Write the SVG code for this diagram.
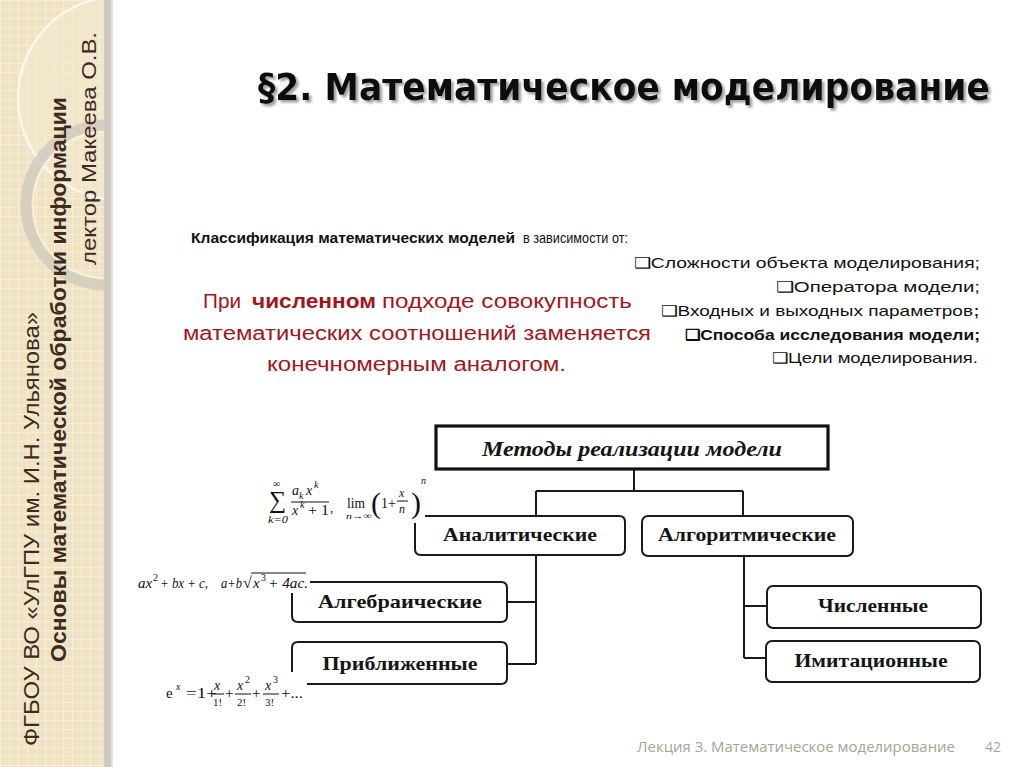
<svg xmlns="http://www.w3.org/2000/svg" width="1024" height="767" viewBox="0 0 1024 767">
<defs>
<pattern id="grid" width="9" height="9" patternUnits="userSpaceOnUse">
<rect width="9" height="9" fill="#efe3c3"/>
<path d="M0 0.5H9M0.5 0V9" stroke="#f6eedb" stroke-width="1"/>
</pattern>
<clipPath id="side"><rect x="0" y="0" width="110" height="767"/></clipPath>
<filter id="sh" filterUnits="userSpaceOnUse" x="240" y="50" width="770" height="70"><feDropShadow dx="2.5" dy="2.5" stdDeviation="1.3" flood-color="#888" flood-opacity="0.8"/></filter>
</defs>
<style>
.side{font-family:"Liberation Sans",Arial,sans-serif;fill:#3d2c1e}
.cal{font-family:"Liberation Sans",Arial,sans-serif;font-size:15px;fill:#111}
.red{font-family:"Liberation Sans",Arial,sans-serif;font-size:20px;fill:#a3161c}
.box{fill:#fff;stroke:#1a1a1a;stroke-width:2}
.open{fill:none;stroke:#1a1a1a;stroke-width:2}
.bt{font-family:"Liberation Serif","Times New Roman",serif;font-weight:bold;font-size:19px;fill:#151515;text-anchor:middle}
.conn{fill:none;stroke:#1a1a1a;stroke-width:2}
.f{font-family:"Liberation Serif","DejaVu Serif",serif;fill:#111}
.fi{font-family:"Liberation Serif","DejaVu Serif",serif;font-style:italic;fill:#111}
</style>
<rect width="1024" height="767" fill="#fff"/>
<!-- sidebar -->
<g id="sidebar">
<rect x="0" y="0" width="110" height="767" fill="url(#grid)"/>
<g clip-path="url(#side)">
<circle cx="120" cy="98" r="102" fill="#f3ead2" fill-opacity="0.5" stroke="#fbf7ee" stroke-width="2.5"/>
<circle cx="106" cy="205" r="80" fill="none" stroke="#cfc9bb" stroke-width="11" stroke-opacity="0.8"/>
<circle cx="106" cy="205" r="73" fill="none" stroke="#f7f2e6" stroke-width="1.5"/>
</g>
<rect x="104" y="0" width="7" height="767" fill="#cfcabd"/>
<rect x="111" y="0" width="2" height="767" fill="#e6e3dc"/>
<text class="side" transform="translate(39,746) rotate(-90)" font-size="22" textLength="434" lengthAdjust="spacingAndGlyphs">ФГБОУ ВО «УлГПУ им. И.Н. Ульянова»</text>
<text class="side" transform="translate(66,662) rotate(-90)" font-size="22" font-weight="bold" textLength="565" lengthAdjust="spacingAndGlyphs">Основы математической обработки информации</text>
<text class="side" transform="translate(96,265) rotate(-90)" font-size="21" textLength="233" lengthAdjust="spacingAndGlyphs">лектор  Макеева О.В.</text>
</g>
<!-- title -->
<g id="title">
<text x="258" y="100" font-family="DejaVu Sans,sans-serif" font-weight="bold" font-size="38" fill="#0a0a0a" textLength="732" lengthAdjust="spacingAndGlyphs" filter="url(#sh)">§2. Математическое моделирование</text>
</g>
<!-- classification -->
<g id="classification">
<text class="cal" x="191" y="243" font-weight="bold" textLength="324" lengthAdjust="spacingAndGlyphs">Классификация математических моделей</text>
<text class="cal" x="523" y="243" textLength="105" lengthAdjust="spacingAndGlyphs">в зависимости от:</text>
<text class="cal" x="634" y="268" textLength="346" lengthAdjust="spacingAndGlyphs">❑Сложности объекта моделирования;</text>
<text class="cal" x="776" y="292" textLength="204" lengthAdjust="spacingAndGlyphs">❑Оператора модели;</text>
<text class="cal" x="661" y="316" textLength="312" lengthAdjust="spacingAndGlyphs">❑Входных и выходных параметров</text>
<text class="cal" x="974" y="316" font-weight="bold">;</text>
<text class="cal" x="685" y="340" font-weight="bold" textLength="295" lengthAdjust="spacingAndGlyphs">❑Способа исследования модели;</text>
<text class="cal" x="772" y="363" textLength="206" lengthAdjust="spacingAndGlyphs">❑Цели моделирования.</text>
</g>
<!-- red text -->
<g id="numeric-note">
<text class="red" x="203" y="308" textLength="38" lengthAdjust="spacingAndGlyphs">При</text>
<text class="red" x="252" y="308" font-weight="bold" textLength="124" lengthAdjust="spacingAndGlyphs">численном</text>
<text class="red" x="382" y="308" textLength="250" lengthAdjust="spacingAndGlyphs">подходе совокупность</text>
<text class="red" x="183" y="340" textLength="468" lengthAdjust="spacingAndGlyphs">математических соотношений заменяется</text>
<text class="red" x="267" y="371" textLength="299" lengthAdjust="spacingAndGlyphs">конечномерным аналогом.</text>
</g>
<!-- connectors -->
<g id="connectors">
<path class="conn" d="M634 470V491M536 491H743M536 491V516M743 491V516"/>
<path class="conn" d="M536 556V664M507 602H536M507 664H536"/>
<path class="conn" d="M744 556V658M744 606H767M744 658H766"/>
</g>
<!-- nodes -->
<g id="node-methods">
<rect x="436" y="426" width="392" height="43" fill="#fff" stroke="#111" stroke-width="3.2"/>
<text x="632" y="456" font-family="Liberation Serif,serif" font-weight="bold" font-style="italic" font-size="20" fill="#151515" text-anchor="middle" textLength="300" lengthAdjust="spacingAndGlyphs">Методы реализации модели</text>
</g>
<g id="node-analytic">
<path class="open" d="M425 516H619Q625 516 625 522V549Q625 555 619 555H421Q415 555 415 549V523"/>
<text class="bt" x="520" y="541" textLength="154" lengthAdjust="spacingAndGlyphs">Аналитические</text>
</g>
<g id="node-algorithmic">
<rect class="box" x="642" y="516" width="211" height="40" rx="6"/>
<text class="bt" x="747" y="541" textLength="178" lengthAdjust="spacingAndGlyphs">Алгоритмические</text>
</g>
<g id="node-algebraic">
<path class="open" d="M310 582H501Q507 582 507 588V616Q507 622 501 622H298Q292 622 292 616V593"/>
<text class="bt" x="400" y="608" textLength="164" lengthAdjust="spacingAndGlyphs">Алгебраические</text>
</g>
<g id="node-approx">
<path class="open" d="M292 672V648Q292 642 298 642H501Q507 642 507 648V678Q507 684 501 684H307"/>
<text class="bt" x="400" y="670" textLength="155" lengthAdjust="spacingAndGlyphs">Приближенные</text>
</g>
<g id="node-numeric">
<rect class="box" x="767" y="586" width="214" height="42" rx="6"/>
<text class="bt" x="873" y="612" textLength="110" lengthAdjust="spacingAndGlyphs">Численные</text>
</g>
<g id="node-imitation">
<rect class="box" x="766" y="641" width="214" height="41" rx="6"/>
<text class="bt" x="871" y="667" textLength="153" lengthAdjust="spacingAndGlyphs">Имитационные</text>
</g>
<!-- formulas -->
<g id="formula-analytic">
<text class="f" x="269" y="508" font-size="24">∑</text>
<text class="f" x="273" y="487" font-size="10">∞</text>
<text class="fi" x="268" y="523" font-size="11" textLength="20" lengthAdjust="spacingAndGlyphs">k=0</text>
<text class="fi" x="292" y="495" font-size="14">a</text>
<text class="fi" x="299" y="499" font-size="10">k</text>
<text class="fi" x="306" y="495" font-size="14">x</text>
<text class="fi" x="314" y="488" font-size="10">k</text>
<path d="M291 502H329" stroke="#111" stroke-width="1"/>
<text class="fi" x="292" y="515" font-size="14">x</text>
<text class="fi" x="300" y="508" font-size="10">k</text>
<text class="f" x="308" y="515" font-size="14" textLength="21" lengthAdjust="spacingAndGlyphs">+ 1</text>
<text class="f" x="330" y="512" font-size="13">,</text>
<text class="f" x="347" y="508" font-size="14" textLength="18" lengthAdjust="spacingAndGlyphs">lim</text>
<text class="fi" x="346" y="519" font-size="9" textLength="26" lengthAdjust="spacingAndGlyphs">n→∞</text>
<text class="f" x="371" y="513" font-size="30">(</text>
<text class="f" x="381" y="508" font-size="14">1+</text>
<text class="fi" x="399" y="497" font-size="12">x</text>
<path d="M397 501H408" stroke="#111" stroke-width="1"/>
<text class="fi" x="399" y="513" font-size="12">n</text>
<text class="f" x="411" y="513" font-size="30">)</text>
<text class="fi" x="421" y="484" font-size="10">n</text>
</g>
<g id="formula-algebraic">
<text class="fi" x="138" y="588" font-size="15">ax</text>
<text class="f" x="153" y="581" font-size="10">2</text>
<text class="fi" x="160" y="588" font-size="15" textLength="48" lengthAdjust="spacingAndGlyphs">+ bx + c,</text>
<text class="fi" x="221" y="588" font-size="15" textLength="21" lengthAdjust="spacingAndGlyphs">a+b</text>
<text class="f" x="243" y="588" font-size="16">√</text>
<path d="M251 573H306" stroke="#111" stroke-width="1"/>
<text class="fi" x="253" y="588" font-size="15">x</text>
<text class="f" x="261" y="581" font-size="10">3</text>
<text class="fi" x="268" y="588" font-size="15" textLength="40" lengthAdjust="spacingAndGlyphs">+ 4ac.</text>
</g>
<g id="formula-approx">
<text class="f" x="166" y="698" font-size="15">e</text>
<text class="fi" x="176" y="690" font-size="10">x</text>
<text class="f" x="186" y="698" font-size="15" textLength="31" lengthAdjust="spacingAndGlyphs">=1+</text>
<text class="fi" x="214" y="690" font-size="14">x</text>
<path d="M212 694H224" stroke="#111" stroke-width="1"/>
<text class="f" x="213" y="706" font-size="11">1!</text>
<text class="f" x="225" y="698" font-size="15">+</text>
<text class="fi" x="237" y="690" font-size="14">x</text>
<text class="f" x="245" y="683" font-size="10">2</text>
<path d="M235 694H251" stroke="#111" stroke-width="1"/>
<text class="f" x="237" y="706" font-size="11">2!</text>
<text class="f" x="252" y="698" font-size="15">+</text>
<text class="fi" x="265" y="690" font-size="14">x</text>
<text class="f" x="273" y="683" font-size="10">3</text>
<path d="M263 694H279" stroke="#111" stroke-width="1"/>
<text class="f" x="265" y="706" font-size="11">3!</text>
<text class="f" x="281" y="698" font-size="15" textLength="22" lengthAdjust="spacingAndGlyphs">+...</text>
</g>
<!-- footer -->
<g id="footer">
<text x="637" y="752" font-family="Open Sans,sans-serif" font-size="14" fill="#a5a496" textLength="318" lengthAdjust="spacingAndGlyphs">Лекция 3. Математическое моделирование</text>
<text x="985" y="752" font-family="Open Sans,sans-serif" font-size="14" fill="#a5a496">42</text>
</g>
</svg>
